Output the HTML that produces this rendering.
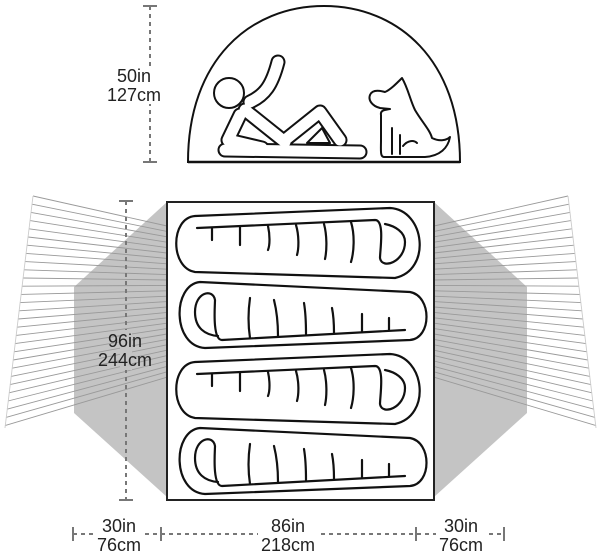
<!DOCTYPE html>
<html><head><meta charset="utf-8"><style>
html,body{margin:0;padding:0;background:#fff;}
svg{display:block;}
text{font-family:"Liberation Sans",sans-serif;fill:#222;}
</style></head><body>
<svg width="600" height="557" viewBox="0 0 600 557" xmlns="http://www.w3.org/2000/svg">
<defs>
<g id="hatch">
<path d="M33,196 L167,226 M32,204.2 L167,231.4 M31,212.4 L167,236.8 M30,220.6 L167,242.2 M29,228.8 L167,247.6 M28,237 L167,253 M27,245.2 L167,258.4 M26,253.4 L167,263.8 M25,261.6 L167,269.2 M24,269.8 L167,274.6 M23,278 L167,280 M22,286.2 L167,285.4 M21,294.4 L167,290.8 M20,302.6 L167,296.2 M19,310.8 L167,301.6 M18,319 L167,307 M17,327.2 L167,312.4 M16,335.4 L167,317.8 M15,343.6 L167,323.2 M14,351.8 L167,328.6 M13,360 L167,334 M12,368.2 L167,339.4 M11,376.4 L167,344.8 M10,384.6 L167,350.2 M9,392.8 L167,355.6 M8,401 L167,361 M7,409.2 L167,366.4 M6,417.4 L167,371.8 M5,425.6 L167,377.2" stroke="#9a9a9a" stroke-width="0.9" fill="none"/>
<path d="M33,196 L5,428" stroke="#ccc" stroke-width="0.9" fill="none"/>
</g>
</defs>
<!-- gray vestibules -->
<polygon points="167,202 74,287 74,413 167,497" fill="#c4c4c4"/>
<polygon points="434,202 527,287 527,413 434,497" fill="#c4c4c4"/>
<use href="#hatch"/>
<use href="#hatch" transform="translate(601,0) scale(-1,1)"/>
<!-- floor -->
<rect x="167" y="202" width="267" height="298" fill="#fff" stroke="#222" stroke-width="2"/>
<!-- bags -->
<g id="b1" fill="none" stroke="#111" stroke-width="2.2" stroke-linecap="round">
<path d="M195,216 L390,208 C425,210 432,270 395,278 L195,272 C170,268 170,218 195,216 Z"/>
<path d="M197,228 L375,220 C385,220 380,250 380,258 C382,270 405,262 405,242 C405,232 395,226 385,224"/>
<path d="M212,228 V240 M240,227 V245 M268,226 C270,235 270,245 268,250 M296,225 C299,235 299,248 297,255 M324,224 C327,235 327,250 325,259 M351,222 C355,235 354,252 351,262"/>
</g>
<g id="b2" fill="none" stroke="#111" stroke-width="2.2" stroke-linecap="round">
<path d="M200,282 L410,292 C432,296 432,338 410,340 L205,348 C172,346 172,285 200,282 Z"/>
<path d="M405,330 L222,340 C212,340 215,305 215,300 C213,288 195,292 195,312 C195,328 205,335 218,336"/>
<path d="M389,330 V318 M362,332 V314 M334,333 C334,325 334,318 332,308 M306,334 C306,324 306,315 304,303 M278,336 C278,325 277,312 274,300 M250,338 C248,325 248,312 250,298"/>
</g>
<use href="#b1" transform="translate(0,146)"/>
<use href="#b2" transform="translate(0,146)"/>
<!-- dome -->
<path d="M188,162 C188,60 250,6 324,6 C398,6 460,60 460,162 Z" fill="#fff" stroke="#111" stroke-width="2"/>
<line x1="188" y1="162" x2="460" y2="162" stroke="#111" stroke-width="2.5"/>
<!-- person -->
<g fill="none" stroke-linecap="round" stroke-linejoin="round">
<g stroke="#111" stroke-width="15">
<path d="M250,102 C265,95 272,85 278,62"/>
<path d="M245,110 L285,142"/>
<path d="M240,115 L228,140 L262,148"/>
<path d="M285,140 L320,112 L340,140"/>
<path d="M225,150 L360,152"/>
</g>
<g stroke="#fff" stroke-width="11">
<path d="M250,102 C265,95 272,85 278,62"/>
<path d="M245,110 L285,142"/>
<path d="M240,115 L228,140 L262,148"/>
<path d="M285,140 L320,112 L340,140"/>
<path d="M225,150 L360,152"/>
</g>
</g>
<circle cx="229" cy="93" r="15" fill="#fff" stroke="#111" stroke-width="2"/>
<polygon points="307,143 322,128 330,143" fill="#fff" stroke="#111" stroke-width="2" stroke-linejoin="round"/>
<!-- dog -->
<g fill="#fff" stroke="#111" stroke-width="2" stroke-linejoin="round" stroke-linecap="round">
<path d="M402,78 C408,88 410,100 415,110 C422,122 430,130 432,138 C440,142 447,140 450,137 C448,148 440,156 425,157 L384,157 C380,157 381,150 381,140 L381,115 C380,110 385,110 390,109 L380,108 C372,106 368,100 370,95 C372,90 378,90 385,92 C390,90 396,84 402,78 Z"/>
<path d="M392,128 V154 M400,135 V154 M403,146 C408,140 414,140 417,143" fill="none"/>
</g>
<!-- dimensions -->
<g stroke="#777" stroke-width="2" fill="none">
<line x1="150" y1="6" x2="150" y2="162" stroke-dasharray="4,4"/>
<line x1="143" y1="6" x2="157" y2="6"/><line x1="143" y1="162" x2="157" y2="162"/>
<line x1="126" y1="201" x2="126" y2="500" stroke-dasharray="4,4"/>
<line x1="119" y1="201" x2="133" y2="201"/><line x1="119" y1="500" x2="133" y2="500"/>
<line x1="73" y1="534" x2="504" y2="534" stroke-dasharray="4,4"/>
<line x1="73" y1="527" x2="73" y2="541"/><line x1="161" y1="527" x2="161" y2="541"/>
<line x1="416" y1="527" x2="416" y2="541"/><line x1="504" y1="527" x2="504" y2="541"/>
</g>
<rect x="120" y="330" width="12" height="40" fill="#c4c4c4"/>
<rect x="258" y="520" width="60" height="36" fill="#fff"/>
<rect x="95" y="520" width="48" height="36" fill="#fff"/>
<rect x="436" y="520" width="50" height="36" fill="#fff"/>
<rect x="144" y="66" width="12" height="38" fill="#fff"/>
<g font-size="18" text-anchor="middle">
<text x="134" y="82">50in</text><text x="134" y="101">127cm</text>
<text x="125" y="347">96in</text><text x="125" y="366">244cm</text>
<text x="119" y="532">30in</text><text x="119" y="551">76cm</text>
<text x="288" y="532">86in</text><text x="288" y="551">218cm</text>
<text x="461" y="532">30in</text><text x="461" y="551">76cm</text>
</g>
</svg>
</body></html>
